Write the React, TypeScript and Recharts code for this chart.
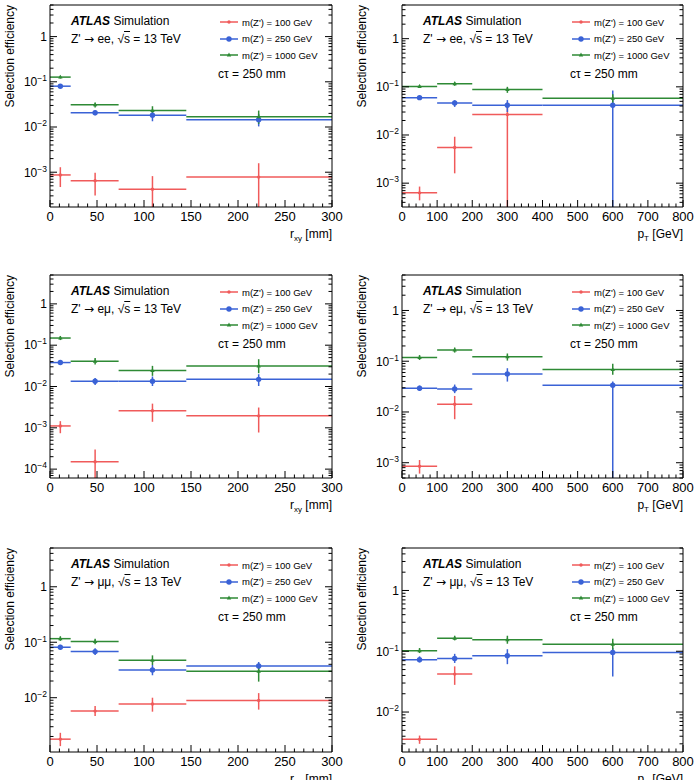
import React from 'react'
import { ScatterChart, Scatter, XAxis, YAxis, ErrorBar, Legend } from 'recharts'

const FONT = '"Liberation Sans", Arial, Helvetica, sans-serif'

const RED = '#f05a5a'
const BLUE = '#3a62d6'
const GREEN = '#2e8a35'
const COLORS = [RED, BLUE, GREEN]
const MARKERS = ['dot', 'circle', 'tri']
const MASS_LABELS = ["m(Z') = 100 GeV", "m(Z') = 250 GeV", "m(Z') = 1000 GeV"]

// bin edges and where the point sits inside the bin
const rxyEdges = [[0, 22], [22, 73], [73, 145], [145, 300]]
const rxyCentres = [11, 48, 109, 222]
const ptEdges = [[0, 100], [100, 200], [200, 400], [400, 800]]
const ptCentres = [50, 150, 300, 600]

const rxyMajor = [0, 50, 100, 150, 200, 250, 300]
const ptMajor = [0, 100, 200, 300, 400, 500, 600, 700, 800]

// [efficiency, error low, error high], null = empty bin
const eeRxy100 = [[8.7e-4, 4.7e-4, 1.29e-3], [6.5e-4, 3.05e-4, 9.7e-4], [4.2e-4, 0, 8.2e-4], [7.8e-4, 0, 1.58e-3]]
const eeRxy250 = [[0.08, 0.073, 0.089], [0.0206, 0.0183, 0.0233], [0.0183, 0.0134, 0.022], [0.0145, 0.0103, 0.0195]]
const eeRxy1000 = [[0.127, 0.118, 0.136], [0.031, 0.0271, 0.0349], [0.0232, 0.0183, 0.0288], [0.0168, 0.0117, 0.0231]]

const eePt100 = [[6.3e-4, 4.4e-4, 8.5e-4], [5.5e-3, 1.6e-3, 9.2e-3], [0.0265, 0, 0.048], null]
const eePt250 = [[0.0596, 0.0544, 0.0645], [0.0462, 0.0383, 0.0525], [0.0414, 0.03, 0.053], [0.0414, 0, 0.0844]]
const eePt1000 = [[0.102, 0.095, 0.11], [0.116, 0.105, 0.127], [0.0885, 0.075, 0.1], [0.0577, 0.047, 0.07]]

const emRxy100 = [[1.11e-3, 7.4e-4, 1.45e-3], [1.51e-4, 0, 2.98e-4], [2.58e-3, 1.4e-3, 3.85e-3], [1.95e-3, 7.7e-4, 3.1e-3]]
const emRxy250 = [[0.038, 0.0347, 0.0417], [0.0134, 0.0109, 0.0161], [0.0134, 0.0103, 0.0175], [0.0149, 0.0103, 0.0198]]
const emRxy1000 = [[0.149, 0.133, 0.167], [0.041, 0.034, 0.049], [0.0243, 0.0181, 0.0316], [0.0315, 0.021, 0.0458]]

const emPt100 = [[8.5e-4, 6.1e-4, 1.13e-3], [0.0142, 0.0072, 0.0207], null, null]
const emPt250 = [[0.0293, 0.0259, 0.0331], [0.0284, 0.0235, 0.0347], [0.0562, 0.0397, 0.0728], [0.0336, 0, 0.04]]
const emPt1000 = [[0.118, 0.106, 0.132], [0.167, 0.148, 0.186], [0.122, 0.103, 0.142], [0.0685, 0.0539, 0.0887]]

const mmRxy100 = [[1.79e-3, 1.34e-3, 2.33e-3], [5.74e-3, 4.67e-3, 7.06e-3], [7.7e-3, 5.6e-3, 0.01], [8.95e-3, 6.1e-3, 0.0121]]
const mmRxy250 = [[0.0813, 0.0738, 0.0896], [0.0678, 0.0591, 0.0778], [0.0316, 0.0254, 0.0389], [0.0373, 0.0327, 0.044]]
const mmRxy1000 = [[0.116, 0.106, 0.128], [0.103, 0.092, 0.115], [0.0473, 0.0389, 0.058], [0.03, 0.0195, 0.041]]

const mmPt100 = [[3.55e-3, 3.0e-3, 4.1e-3], [0.0421, 0.028, 0.0564], null, null]
const mmPt250 = [[0.0725, 0.0657, 0.0824], [0.0762, 0.0642, 0.0907], [0.0843, 0.0613, 0.108], [0.0957, 0.0385, 0.113]]
const mmPt1000 = [[0.102, 0.0935, 0.113], [0.164, 0.151, 0.18], [0.155, 0.133, 0.18], [0.131, 0.106, 0.16]]

const CHANNELS: Record<string, string> = { ee: 'ee', em: 'e\u03bc', mm: '\u03bc\u03bc' }

const panels = [
  { col: 0, row: 0, v: 'rxy', ch: 'ee', yMin: 1.7e-4, series: [eeRxy100, eeRxy250, eeRxy1000] },
  { col: 1, row: 0, v: 'pt', ch: 'ee', yMin: 3.2e-4, series: [eePt100, eePt250, eePt1000] },
  { col: 0, row: 1, v: 'rxy', ch: 'em', yMin: 6.1e-5, series: [emRxy100, emRxy250, emRxy1000] },
  { col: 1, row: 1, v: 'pt', ch: 'em', yMin: 5e-4, series: [emPt100, emPt250, emPt1000] },
  { col: 0, row: 2, v: 'rxy', ch: 'mm', yMin: 1.05e-3, series: [mmRxy100, mmRxy250, mmRxy1000] },
  { col: 1, row: 2, v: 'pt', ch: 'mm', yMin: 2.2e-3, series: [mmPt100, mmPt250, mmPt1000] },
]
const Y_MAX = 5

// page layout
const COLS = [
  { x: 0, w: 345, plotL: 50, plotR: 332 },
  { x: 345, w: 350, plotL: 402, plotR: 683 },
]
const ROWS = [
  { y: 0, h: 260, plotT: 5, plotB: 207 },
  { y: 260, h: 260, plotT: 275, plotB: 478 },
  { y: 520, h: 260, plotT: 548, plotB: 752 },
]
const YW = 45
const XH = 20

// error bars that run to zero stop at the bottom of the frame
function toRows(vals: any[], edges: number[][], centres: number[], yMin: number) {
  return vals.flatMap((p, i) =>
    p
      ? [{
          x: centres[i],
          y: p[0],
          xErr: [centres[i] - edges[i][0], edges[i][1] - centres[i]],
          yErr: [p[0] - Math.max(p[1], yMin), p[2] - p[0]],
        }]
      : []
  )
}

function linTicks(majors: number[]) {
  const step = (majors[1] - majors[0]) / 5
  const out: number[] = []
  for (let v = majors[0]; v <= majors[majors.length - 1] + 1e-9; v += step) out.push(Math.round(v))
  return out
}

function logTicks(lo: number, hi: number) {
  const out: number[] = []
  for (let d = Math.floor(Math.log10(lo)); d <= Math.ceil(Math.log10(hi)); d++) {
    for (let m = 1; m <= 9; m++) {
      const v = Number((m * Math.pow(10, d)).toPrecision(3))
      if (v >= lo && v <= hi) out.push(v)
    }
  }
  return out
}

const isDecade = (v: number) => Math.abs(Math.log10(v) - Math.round(Math.log10(v))) < 1e-6

function drawMarker(kind: string, cx: number, cy: number, color: string) {
  if (kind === 'tri') {
    return <path d={`M${cx},${cy - 2.4}L${cx + 2.2},${cy + 1.5}L${cx - 2.2},${cy + 1.5}Z`} fill={color} />
  }
  return <circle cx={cx} cy={cy} r={kind === 'circle' ? 2.7 : 1.7} fill={color} />
}

const xTick = (majors: number[], top: boolean) => (props: any) => {
  const { x, y, payload } = props
  const major = majors.includes(payload.value)
  const len = major ? 7 : 3.5
  return (
    <g>
      <line x1={x} x2={x} y1={y} y2={top ? y + len : y - len} stroke="#000" strokeWidth={1} />
      {!top && major && (
        <text x={x} y={y + 14} textAnchor="middle" fontSize={13} fill="#000">{payload.value}</text>
      )}
    </g>
  )
}

const yTick = (right: boolean) => (props: any) => {
  const { x, y, payload } = props
  const v = payload.value
  const major = isDecade(v)
  const len = major ? 7 : 3.5
  const p = Math.round(Math.log10(v))
  return (
    <g>
      <line x1={x} x2={right ? x - len : x + len} y1={y} y2={y} stroke="#000" strokeWidth={1} />
      {!right && major && (
        <text x={x - 3} y={y} dy={4.3} textAnchor="end" fontSize={12} fill="#000">
          {p === 0 ? '1' : (
            <>
              <tspan>10</tspan>
              <tspan dy={-5} fontSize={8.5}>{'\u2212' + Math.abs(p)}</tspan>
            </>
          )}
        </text>
      )}
    </g>
  )
}

const LegendBox = (props: any) => {
  const items = [...(props.payload || [])].sort(
    (a: any, b: any) => MASS_LABELS.indexOf(a.value) - MASS_LABELS.indexOf(b.value)
  )
  return (
    <div style={{ fontFamily: FONT, fontSize: 9.5, color: '#000' }}>
      {items.map((e: any) => {
        const i = MASS_LABELS.indexOf(e.value)
        return (
          <div key={e.value} style={{ display: 'flex', alignItems: 'center', height: 16.5, whiteSpace: 'nowrap' }}>
            <svg width={18} height={8} style={{ marginRight: 4 }}>
              <line x1={0} x2={18} y1={4} y2={4} stroke={COLORS[i]} strokeWidth={1.5} />
              {drawMarker(MARKERS[i], 9, 4, COLORS[i])}
            </svg>
            {e.value}
          </div>
        )
      })}
    </div>
  )
}

function Panel({ cfg }: { cfg: (typeof panels)[number] }) {
  const col = COLS[cfg.col]
  const row = ROWS[cfg.row]
  const pl = col.plotL - col.x
  const pr = col.plotR - col.x
  const pt = row.plotT - row.y
  const pb = row.plotB - row.y
  const margin = { left: pl - YW, right: col.w - pr - 1, top: pt - 1, bottom: row.h - pb - XH }

  const isR = cfg.v === 'rxy'
  const edges = isR ? rxyEdges : ptEdges
  const centres = isR ? rxyCentres : ptCentres
  const majors = isR ? rxyMajor : ptMajor
  const xDomain = [majors[0], majors[majors.length - 1]]
  const xt = linTicks(majors)
  const yt = logTicks(cfg.yMin, Y_MAX)

  return (
    <div style={{ position: 'absolute', left: col.x, top: row.y, width: col.w, height: row.h }}>
      <ScatterChart width={col.w} height={row.h} margin={margin}>
        <XAxis type="number" dataKey="x" domain={xDomain} ticks={xt} interval={0} allowDataOverflow
          height={XH} tickSize={0} tickMargin={0} tickLine={false} tick={xTick(majors, false)}
          axisLine={{ stroke: '#000' }} />
        <XAxis xAxisId="top" orientation="top" type="number" domain={xDomain} ticks={xt} interval={0}
          allowDataOverflow height={1} tickSize={0} tickMargin={0} tickLine={false} tick={xTick(majors, true)}
          axisLine={{ stroke: '#000' }} />
        <YAxis type="number" dataKey="y" scale="log" domain={[cfg.yMin, Y_MAX]} ticks={yt} interval={0}
          allowDataOverflow width={YW} tickSize={0} tickMargin={0} tickLine={false} tick={yTick(false)}
          axisLine={{ stroke: '#000' }} />
        <YAxis yAxisId="right" orientation="right" type="number" scale="log" domain={[cfg.yMin, Y_MAX]}
          ticks={yt} interval={0} allowDataOverflow width={1} tickSize={0} tickMargin={0} tickLine={false}
          tick={yTick(true)} axisLine={{ stroke: '#000' }} />
        <Legend content={<LegendBox />} layout="vertical" align="center" verticalAlign="middle"
          wrapperStyle={{ left: pl + 170, top: pt + 9, width: 'auto', height: 'auto' }} />
        {cfg.series.map((s, i) => (
          <Scatter key={MASS_LABELS[i]} name={MASS_LABELS[i]} data={toRows(s, edges, centres, cfg.yMin)}
            fill={COLORS[i]} isAnimationActive={false}
            shape={(p: any) => drawMarker(MARKERS[i], p.cx, p.cy, COLORS[i])}>
            <ErrorBar dataKey="xErr" direction="x" width={0} stroke={COLORS[i]} strokeWidth={1.5} />
            <ErrorBar dataKey="yErr" direction="y" width={0} stroke={COLORS[i]} strokeWidth={1.5} />
          </Scatter>
        ))}
      </ScatterChart>

      <div style={{ position: 'absolute', left: pl + 21, top: pt + 20 - 10.2, fontSize: 12, lineHeight: 1, whiteSpace: 'nowrap' }}>
        <b><i>ATLAS</i></b> Simulation
      </div>
      <div style={{ position: 'absolute', left: pl + 21, top: pt + 38 - 10.2, fontSize: 12, lineHeight: 1, whiteSpace: 'nowrap' }}>
        Z' <span style={{ fontFamily: '"DejaVu Sans", sans-serif', fontSize: 12 }}>{'\u2192'}</span> {CHANNELS[cfg.ch]},{' '}
        {'\u221a'}<span style={{ textDecoration: 'overline' }}>s</span> = 13 TeV
      </div>
      <div style={{ position: 'absolute', left: pl + 168, top: pt + 73.5 - 10.2, fontSize: 12, lineHeight: 1, whiteSpace: 'nowrap' }}>
        c{'\u03c4'} = 250 mm
      </div>
      <div style={{ position: 'absolute', right: col.w - pr, top: pb + 31.5 - 10.2, fontSize: 12, lineHeight: 1, whiteSpace: 'nowrap' }}>
        {isR ? <>r<sub style={{ fontSize: 8 }}>xy</sub> [mm]</> : <>p<sub style={{ fontSize: 8 }}>T</sub> [GeV]</>}
      </div>
      <div style={{
        position: 'absolute', left: pl - 40 - 7, top: pt + 130, width: 130, lineHeight: '14px', fontSize: 12,
        textAlign: 'right', whiteSpace: 'nowrap', transform: 'rotate(-90deg)', transformOrigin: 'top left',
      }}>
        Selection efficiency
      </div>
    </div>
  )
}

export default function App() {
  return (
    <div style={{
      position: 'absolute', left: 0, top: 0, width: 695, height: 780, overflow: 'hidden',
      background: '#fff', fontFamily: FONT, color: '#000',
    }}>
      {panels.map((p, i) => <Panel key={i} cfg={p} />)}
    </div>
  )
}
